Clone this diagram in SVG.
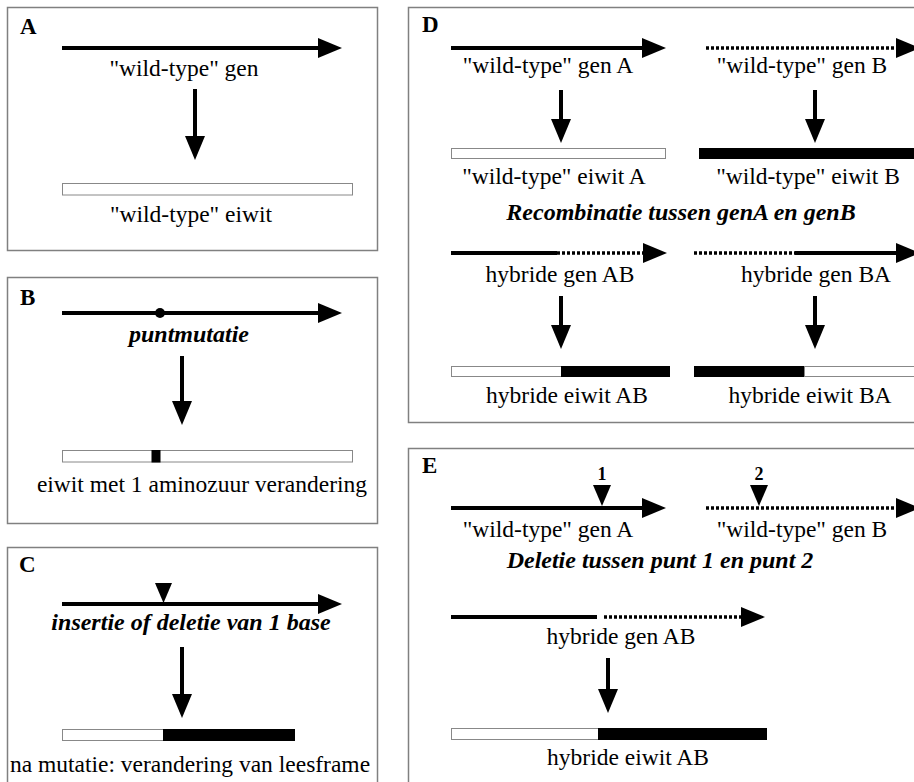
<svg xmlns="http://www.w3.org/2000/svg" width="914" height="782" viewBox="0 0 914 782">
<style>
.panel{fill:#fff;stroke:#808080;stroke-width:1.5}
.t{font-family:"Liberation Serif","Times New Roman",serif;font-size:23.5px;fill:#000;text-anchor:middle}
.bi{font-family:"Liberation Serif","Times New Roman",serif;font-size:24px;font-weight:bold;font-style:italic;fill:#000;text-anchor:middle}
.lbl{font-family:"Liberation Serif","Times New Roman",serif;font-size:23px;font-weight:bold;fill:#000}
.num{font-family:"Liberation Serif","Times New Roman",serif;font-size:18px;font-weight:bold;fill:#000;text-anchor:middle}
.solid{stroke:#000;stroke-width:4;fill:none}
.dot{stroke:#000;stroke-width:3.5;stroke-dasharray:3 2;fill:none}
.arr{marker-end:url(#ah)}
.wbar{fill:#fff;stroke:#888;stroke-width:1}
.bbar{fill:#000;stroke:#000;stroke-width:1}
</style>
<defs>
<marker id="ah" markerUnits="userSpaceOnUse" viewBox="0 0 24 20" markerWidth="24" markerHeight="20" refX="0" refY="10" orient="auto">
<path d="M0,0 L24,10 L0,20 z" fill="#000"/>
</marker>
</defs>
<rect width="914" height="782" fill="#fff"/>

<g id="panelA">
<rect class="panel" x="7.5" y="7.5" width="370" height="243"/>
<text class="lbl" x="20" y="34">A</text>
<text class="t" x="184" y="76">"wild-type" gen</text>
<rect class="wbar" x="62.5" y="183.5" width="290" height="11.5"/>
<text class="t" x="191" y="222">"wild-type" eiwit</text>
</g>

<g id="panelB">
<rect class="panel" x="7.5" y="277.5" width="370" height="246"/>
<text class="lbl" x="20" y="305">B</text>
<circle cx="160" cy="313" r="5" fill="#000"/>
<text class="bi" x="189" y="342">puntmutatie</text>
<rect class="wbar" x="62.5" y="450.5" width="290" height="11.5"/>
<rect class="bbar" x="152" y="450.5" width="8" height="11.5"/>
<text class="t" x="202" y="492">eiwit met 1 aminozuur verandering</text>
</g>

<g id="panelC">
<rect class="panel" x="7.5" y="547.5" width="370" height="250"/>
<text class="lbl" x="19" y="572">C</text>
<polygon points="155,583 172,583 163.5,603" fill="#000"/>
<text class="bi" x="191" y="630">insertie of deletie van 1 base</text>
<rect class="wbar" x="62.5" y="729.5" width="101" height="11"/>
<rect class="bbar" x="163.5" y="729.5" width="131" height="11"/>
<text class="t" x="190" y="772">na mutatie: verandering van leesframe</text>
</g>

<g id="panelD">
<rect class="panel" x="408.5" y="7.5" width="520" height="415"/>
<text class="lbl" x="422" y="32">D</text>
<text class="t" x="548" y="73">"wild-type" gen A</text>
<text class="t" x="802" y="73">"wild-type" gen B</text>
<rect class="wbar" x="451.5" y="148.5" width="214" height="10"/>
<rect class="bbar" x="699.5" y="148.5" width="230" height="10"/>
<text class="t" x="554" y="184">"wild-type" eiwit A</text>
<text class="t" x="808" y="184">"wild-type" eiwit B</text>
<text class="bi" x="681" y="220">Recombinatie tussen genA en genB</text>
<text class="t" x="560" y="282">hybride gen AB</text>
<text class="t" x="816" y="282">hybride gen BA</text>
<rect class="wbar" x="451.5" y="366.5" width="110" height="10"/>
<rect class="bbar" x="561.5" y="366.5" width="108" height="10"/>
<rect class="bbar" x="694.5" y="366.5" width="110" height="10"/>
<rect class="wbar" x="804.5" y="366.5" width="120" height="10"/>
<text class="t" x="567" y="403">hybride eiwit AB</text>
<text class="t" x="810" y="403">hybride eiwit BA</text>
</g>

<g id="panelE">
<rect class="panel" x="408.5" y="448.5" width="520" height="350"/>
<text class="lbl" x="422" y="473">E</text>
<text class="num" x="602" y="480">1</text>
<text class="num" x="759" y="480">2</text>
<polygon points="593,485 611,485 602,506" fill="#000"/>
<polygon points="750,485 768,485 759,506" fill="#000"/>
<text class="t" x="548" y="537">"wild-type" gen A</text>
<text class="t" x="802" y="537">"wild-type" gen B</text>
<text class="bi" x="660" y="568">Deletie tussen punt 1 en punt 2</text>
<text class="t" x="621" y="644">hybride gen AB</text>
<rect class="wbar" x="451.5" y="728.5" width="147" height="11"/>
<rect class="bbar" x="598.5" y="728.5" width="168" height="11"/>
<text class="t" x="628" y="765">hybride eiwit AB</text>
</g>

<g id="connectors">
<line class="solid arr" x1="62" y1="48" x2="318" y2="48"/>
<line class="solid arr" x1="195" y1="89" x2="195" y2="136"/>
<line class="solid arr" x1="62" y1="313" x2="318" y2="313"/>
<line class="solid arr" x1="182" y1="356" x2="182" y2="401"/>
<line class="solid arr" x1="62" y1="604" x2="318" y2="604"/>
<line class="solid arr" x1="182" y1="647" x2="182" y2="694"/>
<line class="solid arr" x1="451" y1="48" x2="642" y2="48"/>
<line class="dot arr" x1="706" y1="48" x2="896" y2="48"/>
<line class="solid arr" x1="561" y1="90" x2="561" y2="119"/>
<line class="solid arr" x1="815" y1="90" x2="815" y2="119"/>
<line class="solid" x1="451" y1="253" x2="557" y2="253"/>
<line class="dot arr" x1="557" y1="253" x2="643" y2="253"/>
<line class="dot" x1="694" y1="253" x2="795" y2="253"/>
<line class="solid arr" x1="795" y1="253" x2="896" y2="253"/>
<line class="solid arr" x1="561" y1="296" x2="561" y2="325"/>
<line class="solid arr" x1="815" y1="296" x2="815" y2="325"/>
<line class="solid arr" x1="451" y1="508" x2="642" y2="508"/>
<line class="dot arr" x1="706" y1="508" x2="896" y2="508"/>
<line class="solid" x1="451" y1="617" x2="597" y2="617"/>
<line class="dot arr" x1="604" y1="617" x2="741" y2="617"/>
<line class="solid arr" x1="608" y1="658" x2="608" y2="689"/>
</g>
</svg>
